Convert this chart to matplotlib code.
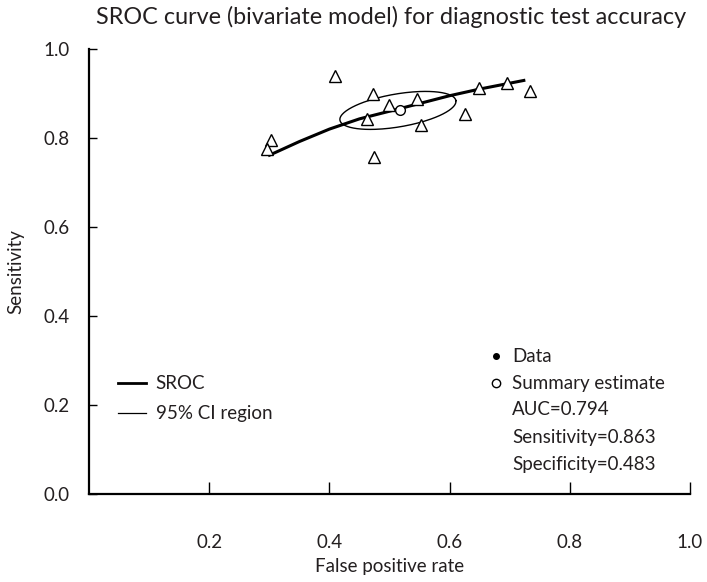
import matplotlib
matplotlib.use('Agg')
import matplotlib.pyplot as plt
import numpy as np

# study points (false positive rate, sensitivity)
study_fpr = [0.409, 0.473, 0.499, 0.545, 0.463, 0.553, 0.625, 0.649, 0.695, 0.733, 0.303, 0.297, 0.474]
study_sens = [0.939, 0.899, 0.874, 0.887, 0.843, 0.829, 0.854, 0.912, 0.923, 0.906, 0.796, 0.775, 0.757]

# SROC curve
sroc_fpr = [0.298, 0.35, 0.40, 0.45, 0.517, 0.60, 0.65, 0.726]
sroc_sens = [0.760, 0.792, 0.820, 0.843, 0.866, 0.895, 0.910, 0.930]

summary_fpr = 0.517
summary_sens = 0.863

stats_labels = ['AUC=0.794', 'Sensitivity=0.863', 'Specificity=0.483']

FONT = 'Lato'
plt.rcParams['font.family'] = [FONT, 'DejaVu Sans']
TXT = '#231f20'


def ciEllipse(ax, cx, cy, a_px, b_px, angle_deg):
    # ellipse drawn in screen proportions of the axes
    bbox = ax.get_window_extent()
    sx = bbox.width / 1.0
    sy = bbox.height / 1.0
    t = np.linspace(0, 2 * np.pi, 200)
    th = np.deg2rad(angle_deg)
    dx = a_px * np.cos(t) * np.cos(th) - b_px * np.sin(t) * np.sin(th)
    dy = a_px * np.cos(t) * np.sin(th) + b_px * np.sin(t) * np.cos(th)
    ax.plot(cx + dx / sx, cy + dy / sy, color='black', lw=1.0)


def main():
    fig = plt.figure(figsize=(7.07, 5.82), dpi=100)
    ax = fig.add_axes([89 / 707, 88 / 582, 601 / 707, 445 / 582])
    ax.set_xlim(0, 1)
    ax.set_ylim(0, 1)

    for s in ['top', 'right']:
        ax.spines[s].set_visible(False)
    for s in ['left', 'bottom']:
        ax.spines[s].set_linewidth(1.6)
        ax.spines[s].set_color('black')

    ax.set_xticks([0.2, 0.4, 0.6, 0.8, 1.0])
    ax.set_xticklabels(['0.2', '0.4', '0.6', '0.8', '1.0'])
    ax.set_yticks([0.0, 0.2, 0.4, 0.6, 0.8, 1.0])
    ax.set_yticklabels(['0.0', '0.2', '0.4', '0.6', '0.8', '1.0'])
    ax.tick_params(axis='x', direction='in', length=9, width=1.0, pad=29, labelsize=13.5, labelcolor=TXT)
    ax.tick_params(axis='y', direction='in', length=6, width=1.0, pad=14, labelsize=13.5, labelcolor=TXT)

    ax.set_xlabel('False positive rate', fontsize=13.5, color=TXT, labelpad=5)
    ax.set_ylabel('Sensitivity', fontsize=13.5, color=TXT, labelpad=14)
    fig.suptitle('SROC curve (bivariate model) for diagnostic test accuracy',
                 fontsize=16.8, color=TXT, x=0.553, y=0.99)

    ax.plot(sroc_fpr, sroc_sens, color='black', lw=2.2, solid_capstyle='butt')
    ciEllipse(ax, summary_fpr - 0.003, summary_sens - 0.001, 58.8, 16.5, 9.6)
    ax.plot(study_fpr, study_sens, linestyle='none', marker='^', markersize=8,
            markerfacecolor='white', markeredgecolor='black', markeredgewidth=1.0)
    ax.plot([summary_fpr], [summary_sens], linestyle='none', marker='o', markersize=7,
            markerfacecolor='white', markeredgecolor='black', markeredgewidth=1.0)

    # left legend
    ax.plot([0.048, 0.095], [0.249, 0.249], color='black', lw=2.0)
    ax.plot([0.048, 0.095], [0.182, 0.182], color='black', lw=0.9)
    ax.text(0.111, 0.249, 'SROC', fontsize=13.5, color=TXT, va='center')
    ax.text(0.111, 0.182, '95% CI region', fontsize=13.5, color=TXT, va='center')

    # right legend
    ax.plot([0.678], [0.310], marker='o', markersize=4, color='black', linestyle='none')
    ax.plot([0.678], [0.249], marker='o', markersize=6, markerfacecolor='white',
            markeredgecolor='black', markeredgewidth=1.0, linestyle='none')
    ax.text(0.704, 0.310, 'Data', fontsize=13.5, color=TXT, va='center')
    ax.text(0.704, 0.249, 'Summary estimate', fontsize=13.5, color=TXT, va='center')
    for i, lab in enumerate(stats_labels):
        ax.text(0.704, 0.189 - i * 0.061, lab, fontsize=13.5, color=TXT, va='center')

    fig.savefig('out.png', dpi=100)


if __name__ == "__main__":
    main()
